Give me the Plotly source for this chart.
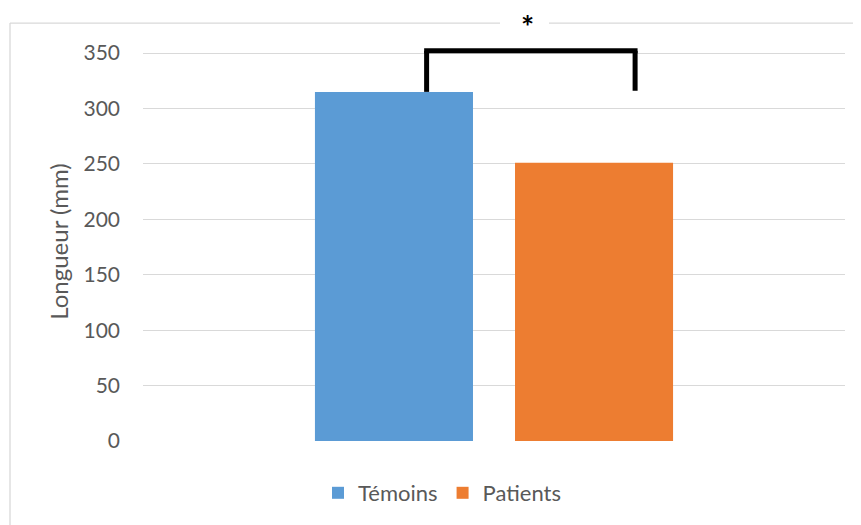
import plotly.graph_objects as go

# Data
series_names = ["Témoins", "Patients"]
series_values = [315, 251]
series_colors = ["#5B9BD5", "#ED7D31"]
y_tick_values = [0, 50, 100, 150, 200, 250, 300, 350]
y_title = "Longueur (mm)"
significance_label = "*"
bracket_top = 352
bracket_right_bottom = 316

# page body adds an 8px offset; figure is sized to fill the rest of the window
OFF = 8
W, H = 861 - OFF, 525 - OFF
L, R, T, B = 143 - OFF, 16, 42 - OFF, 83
FONT = "Lato, 'Open Sans', sans-serif"
TXT = "#595959"
GRID = "#D9D9D9"

fig = go.Figure()
for name, val, col in zip(series_names, series_values, series_colors):
    fig.add_trace(go.Bar(x=[""], y=[val], name=name, marker=dict(color=col, line=dict(width=0))))

plot_w = W - L - R
plot_h = H - T - B

def px_x(x):  # reference-window pixel -> paper
    return (x - OFF - L) / plot_w

def px_y(y):
    return (H - B - (y - OFF)) / plot_h

shapes = []
# chart frame (left + top, gap for the asterisk)
fl = dict(type="line", xref="paper", yref="paper", line=dict(color=GRID, width=1.3), layer="below")
shapes.append(dict(fl, x0=px_x(10), x1=px_x(10), y0=px_y(23), y1=px_y(530)))
shapes.append(dict(fl, x0=px_x(10), x1=px_x(500), y0=px_y(23), y1=px_y(23)))
shapes.append(dict(fl, x0=px_x(549), x1=px_x(870), y0=px_y(23), y1=px_y(23)))

# significance bracket
bx0, bx1 = -0.096, 0.201
bl = dict(type="line", xref="x", yref="y", line=dict(color="black", width=5))
shapes.append(dict(bl, x0=bx0, x1=bx0, y0=series_values[0], y1=bracket_top))
shapes.append(dict(bl, x0=bx0 - 0.0035, x1=bx1 + 0.0035, y0=bracket_top, y1=bracket_top))
shapes.append(dict(bl, x0=bx1, x1=bx1, y0=bracket_top, y1=bracket_right_bottom))

fig.update_layout(
    width=W, height=H,
    margin=dict(l=L, r=R, t=T, b=B),
    paper_bgcolor="white", plot_bgcolor="white",
    barmode="group", bargap=0.43, bargroupgap=0.21,
    font=dict(family=FONT, color=TXT, size=21),
    showlegend=True,
    legend=dict(orientation="h", x=px_x(442), xanchor="center", y=px_y(493), yanchor="middle",
                font=dict(size=22, color=TXT), itemwidth=30, traceorder="normal"),
    shapes=shapes,
    annotations=[dict(text="<b>" + significance_label + "</b>", x=(527.5 - 494) / 702, xref="x",
                      y=px_y(26), yref="paper", showarrow=False, font=dict(size=31, color="black"),
                      xanchor="center", yanchor="middle")],
)
fig.update_xaxes(showticklabels=False, showgrid=False, zeroline=False, showline=False, ticks="")
fig.update_yaxes(range=[0, 360], tickvals=y_tick_values, showgrid=True, gridcolor=GRID, gridwidth=1.3,
                 zeroline=False, showline=False, ticks="", tickfont=dict(size=21, color=TXT),
                 ticklabelstandoff=22,
                 title=dict(text=y_title, font=dict(size=24, color=TXT), standoff=8))

fig.write_html("out.html")
